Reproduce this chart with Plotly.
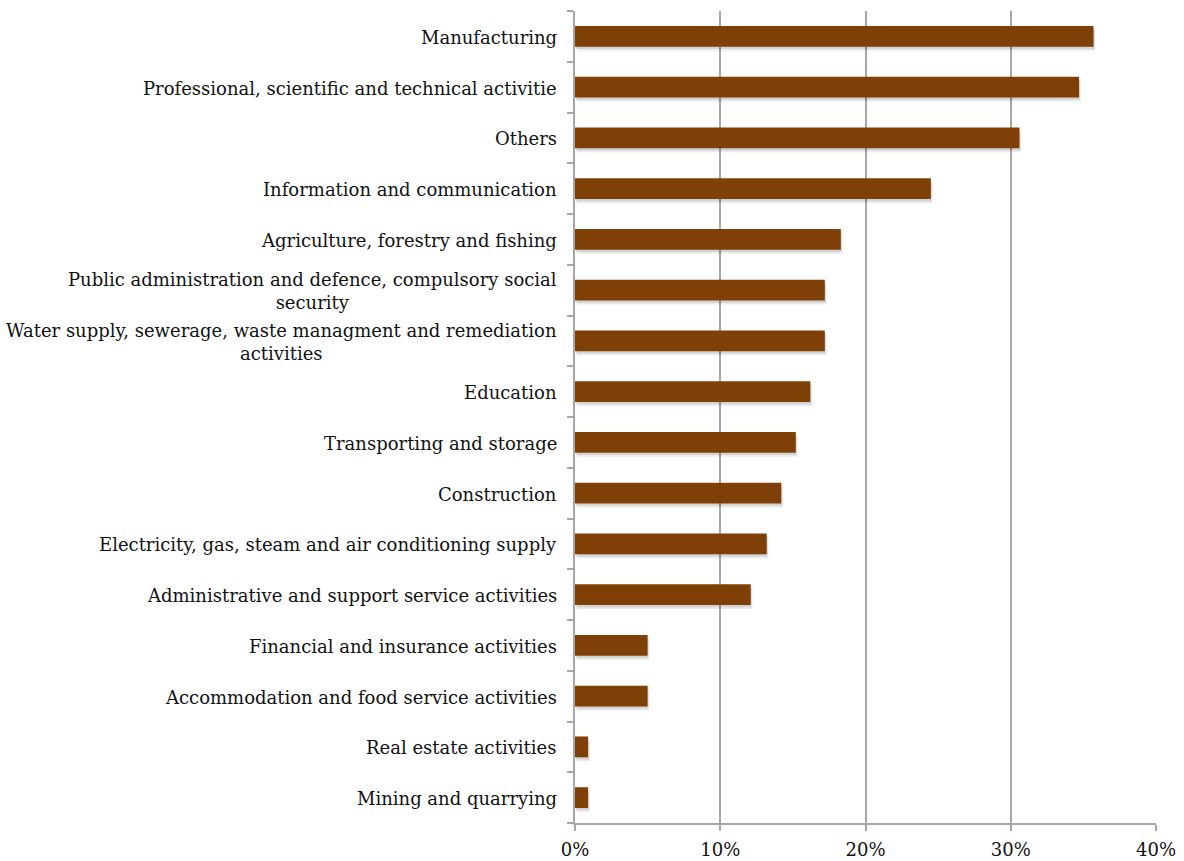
import plotly.graph_objects as go

# Share of businesses by sector (%), listed top to bottom
sectors = [
    "Manufacturing",
    "Professional, scientific and technical activitie",
    "Others",
    "Information and communication",
    "Agriculture, forestry and fishing",
    "Public administration and defence, compulsory social<br>security",
    "Water supply, sewerage, waste managment and remediation<br>activities",
    "Education",
    "Transporting and storage",
    "Construction",
    "Electricity, gas, steam and air conditioning supply",
    "Administrative and support service activities",
    "Financial and insurance activities",
    "Accommodation and food service activities",
    "Real estate activities",
    "Mining and quarrying",
]
shares = [35.7, 34.7, 30.6, 24.5, 18.3, 17.2, 17.2, 16.2, 15.2, 14.2, 13.2, 12.1, 5.0, 5.0, 0.9, 0.9]

x_ticks = [0, 10, 20, 30, 40]
x_tick_text = ["0%", "10%", "20%", "30%", "40%"]

BAR = "#7F4008"
GRID = "#A6A6A6"
FONT = "Georgia, 'DejaVu Serif', serif"
BAR_W = 0.41

cats = list(range(len(sectors)))

fig = go.Figure()

# soft drop shadow falling below each bar
fig.add_trace(go.Bar(
    y=cats, x=shares, base=0.12, orientation="h",
    marker=dict(color="rgba(0,0,0,0.08)", line=dict(width=0)),
    width=BAR_W, offset=-BAR_W / 2 + 0.08, hoverinfo="skip", showlegend=False,
))
fig.add_trace(go.Bar(
    y=cats, x=shares, base=0.06, orientation="h",
    marker=dict(color="rgba(0,0,0,0.10)", line=dict(width=0)),
    width=BAR_W, offset=-BAR_W / 2 + 0.045, hoverinfo="skip", showlegend=False,
))
fig.add_trace(go.Bar(
    y=cats, x=shares, orientation="h",
    marker=dict(color=BAR, line=dict(width=0)),
    width=BAR_W, offset=-BAR_W / 2, showlegend=False,
))

# category labels, centred line by line and right-anchored against the axis
for i, name in enumerate(sectors):
    fig.add_annotation(
        x=0, xref="paper", xanchor="right", xshift=-16,
        y=i, yref="y", yanchor="middle", yshift=-1,
        text=name, showarrow=False, align="center",
        font=dict(family=FONT, size=18, color="#111111"),
    )

fig.update_layout(
    width=1184, height=861,
    margin=dict(l=575, r=28, t=11, b=38),
    paper_bgcolor="white", plot_bgcolor="white",
    barmode="overlay",
    font=dict(family=FONT, size=18, color="#111111"),
)
fig.update_xaxes(
    range=[0, 40], tickvals=x_ticks, ticktext=x_tick_text, automargin=False,
    showgrid=True, gridcolor=GRID, gridwidth=1.5,
    showline=True, linecolor=GRID, linewidth=1.5,
    ticks="outside", ticklen=6, tickcolor=GRID, tickwidth=1.5,
    ticklabelstandoff=4,
    zeroline=False, tickfont=dict(family=FONT, size=18, color="#111111"),
)
fig.update_yaxes(
    type="linear", range=[len(sectors) - 0.5, -0.5], automargin=False,
    tickvals=[i - 0.5 for i in range(len(sectors) + 1)],
    showticklabels=False, showgrid=False,
    showline=True, linecolor=GRID, linewidth=1.5,
    ticks="outside", ticklen=6, tickcolor=GRID, tickwidth=1.5,
    zeroline=False,
)

fig.write_html("out.html")
